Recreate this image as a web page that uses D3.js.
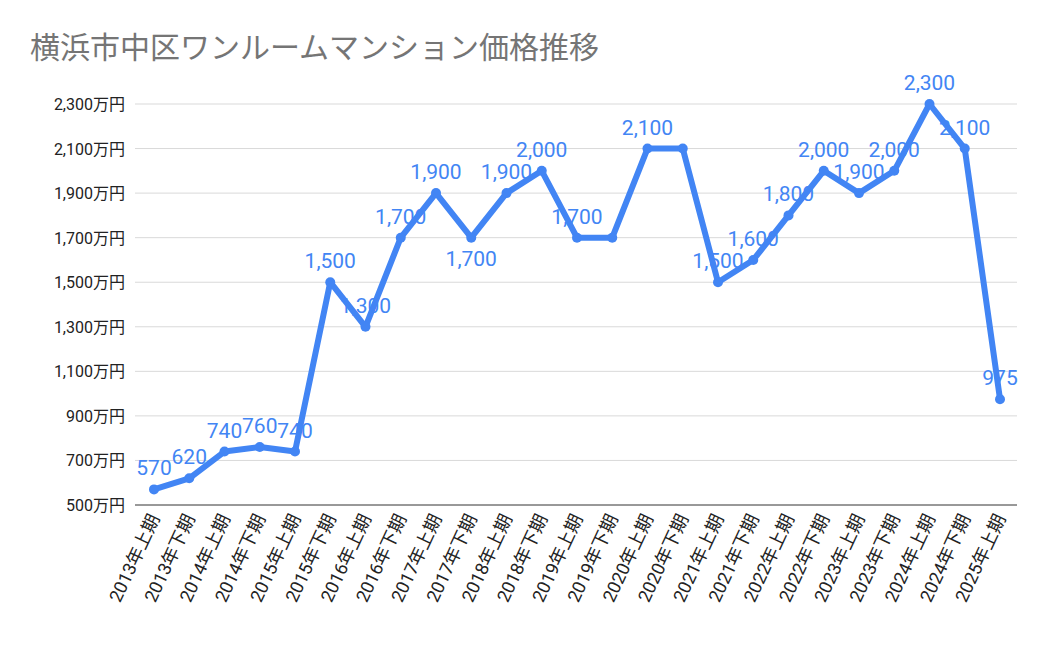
<!DOCTYPE html>
<html><head><meta charset="utf-8">
<script src="https://cdn.jsdelivr.net/npm/d3@7"></script>
<style>body{margin:0;background:#fff}text{font-family:Roboto,"Noto Sans CJK JP",sans-serif}</style>
</head><body><svg id="c" width="1050" height="649"></svg>
<script>
const periods = ['2013年上期','2013年下期','2014年上期','2014年下期','2015年上期','2015年下期','2016年上期','2016年下期','2017年上期','2017年下期','2018年上期','2018年下期','2019年上期','2019年下期','2020年上期','2020年下期','2021年上期','2021年下期','2022年上期','2022年下期','2023年上期','2023年下期','2024年上期','2024年下期','2025年上期']
const prices = [570,620,740,760,740,1500,1300,1700,1900,1700,1900,2000,1700,1700,2100,2100,1500,1600,1800,2000,1900,2000,2300,2100,975]
const yTicks = [500,700,900,1100,1300,1500,1700,1900,2100,2300]

const svg = d3.select('#c')
const blue = '#4285f4'
const x = d3.scalePoint().domain(periods).range([154, 1000])
const y = d3.scaleLinear().domain([500, 2300]).range([505, 104])
const fmt = d3.format(',')

svg.append('text').attr('x', 30).attr('y', 58).attr('font-size', 30).attr('fill', '#757575')
  .text('横浜市中区ワンルームマンション価格推移')

svg.append('g').selectAll('line').data(yTicks).enter().append('line')
  .attr('x1', 135).attr('x2', 1017).attr('y1', d => y(d)).attr('y2', d => y(d))
  .attr('stroke', d => d === 500 ? '#333' : '#d9d9d9').attr('stroke-width', 1)

svg.append('g').selectAll('text').data(yTicks).enter().append('text')
  .attr('x', 125).attr('y', d => y(d) + 6).attr('text-anchor', 'end')
  .attr('font-size', 16).attr('fill', '#222').text(d => fmt(d) + '万円')

svg.append('g').selectAll('text').data(periods).enter().append('text')
  .attr('transform', d => `translate(${x(d) + 6},${518}) rotate(-65)`)
  .attr('text-anchor', 'end').attr('font-size', 18).attr('fill', '#222').text(d => d)

const line = d3.line().x((d, i) => x(periods[i])).y(d => y(d))
svg.append('path').datum(prices).attr('d', line).attr('fill', 'none')
  .attr('stroke', blue).attr('stroke-width', 6).attr('stroke-linejoin', 'round')

svg.append('g').selectAll('circle').data(prices).enter().append('circle')
  .attr('cx', (d, i) => x(periods[i])).attr('cy', d => y(d)).attr('r', 5).attr('fill', blue)

const lab = svg.append('g')
prices.forEach((d, i) => {
  if (i > 0 && d === prices[i - 1]) return
  // valley point at 2017下期 has its label below
  const below = i === 9
  lab.append('text').attr('x', x(periods[i])).attr('y', below ? y(d) + 28 : y(d) - 14)
    .attr('text-anchor', 'middle').attr('font-size', 21).attr('fill', blue).text(fmt(d))
})
</script>
</body></html>
